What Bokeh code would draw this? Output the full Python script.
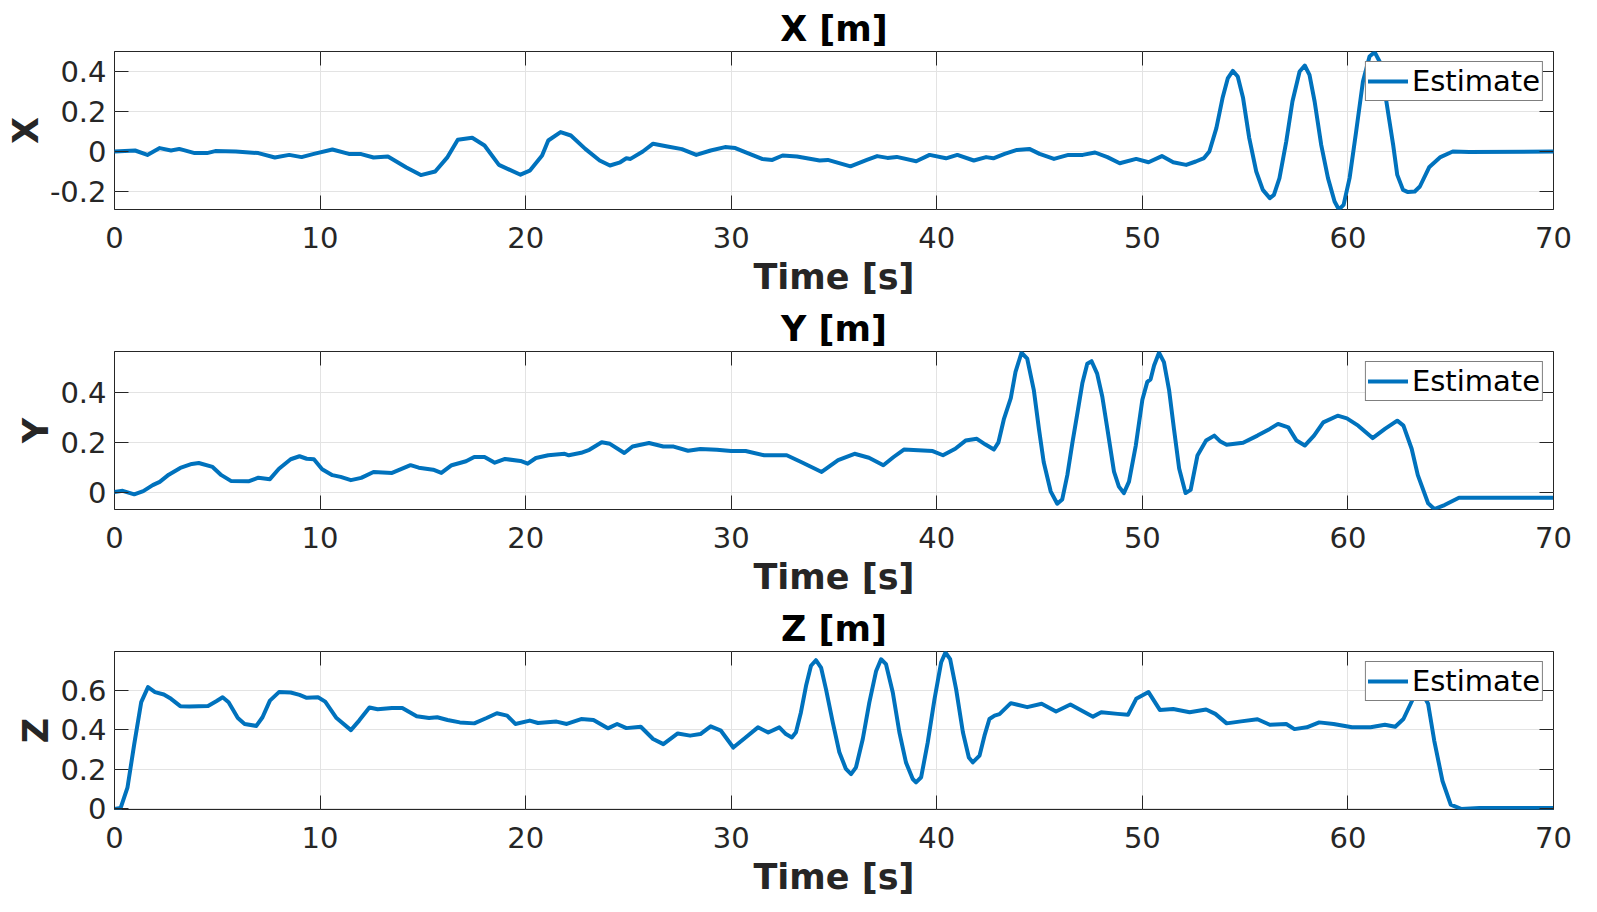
from bokeh.plotting import figure
from bokeh.layouts import column
from bokeh.models import Range1d, FixedTicker, LinearAxis
from bokeh.embed import file_html
from bokeh.resources import INLINE

# ---------------- data ----------------
titles = ["X [m]", "Y [m]", "Z [m]"]
y_labels = ["X", "Y", "Z"]
x_label = "Time [s]"
legend_label = "Estimate"

x_ticks = [0, 10, 20, 30, 40, 50, 60, 70]
x_tick_labels = ["0", "10", "20", "30", "40", "50", "60", "70"]

x_yticks = [-0.2, 0.0, 0.2, 0.4]
x_ytick_labels = ["-0.2", "0", "0.2", "0.4"]
y_yticks = [0.0, 0.2, 0.4]
y_ytick_labels = ["0", "0.2", "0.4"]
z_yticks = [0.0, 0.2, 0.4, 0.6]
z_ytick_labels = ["0", "0.2", "0.4", "0.6"]

x_yrange = [-0.29, 0.5]
y_yrange = [-0.07, 0.565]
z_yrange = [-0.003, 0.795]
t_range = [0, 70]

t_x = [0, 1.0, 1.6, 2.2, 2.75, 3.15, 3.9, 4.5, 4.9, 5.9, 7.0, 7.8, 8.5, 9.1, 9.7,
       10.6, 11.4, 12.0, 12.6, 13.3, 14.2, 14.9, 15.6, 16.2, 16.7, 17.4, 18.0,
       18.7, 19.75, 20.2, 20.8, 21.1, 21.7, 22.2, 22.9, 23.6, 24.1, 24.6, 24.9,
       25.1, 25.7, 26.2, 26.9, 27.6, 28.3, 29.0, 29.7, 30.2, 30.8, 31.5, 32.0,
       32.5, 33.2, 34.3, 34.7, 35.8, 36.6, 37.1, 37.6, 38.05, 39.0, 39.65, 40.45,
       41.0, 41.8, 42.4, 42.75, 43.3, 43.9, 44.5, 45.0, 45.7, 46.4, 47.1, 47.7,
       48.3, 48.9, 49.7, 50.3, 50.95, 51.5, 52.13, 52.6, 53.0, 53.26, 53.6, 53.9,
       54.16, 54.4, 54.64, 54.9, 55.2, 55.54, 55.86, 56.2, 56.4, 56.67, 57.0, 57.3,
       57.65, 57.9, 58.13, 58.38, 58.7, 59.03, 59.35, 59.56, 59.79, 60.08, 60.4,
       60.73, 61.05, 61.3, 61.54, 61.87, 62.2, 62.4, 62.68, 62.92, 63.25, 63.5,
       63.95, 64.5, 65.1, 65.9, 70.0]
x_est = [0, 0.005, -0.017, 0.017, 0.005, 0.013, -0.008, -0.008, 0.002, 0, -0.008,
         -0.03, -0.017, -0.028, -0.012, 0.01, -0.012, -0.013, -0.03, -0.025, -0.08,
         -0.118, -0.1, -0.028, 0.059, 0.069, 0.03, -0.067, -0.116, -0.096, -0.02,
         0.055, 0.097, 0.08, 0.013, -0.045, -0.07, -0.054, -0.034, -0.037, 0,
         0.039, 0.025, 0.012, -0.017, 0.005, 0.022, 0.017, -0.008, -0.037, -0.042,
         -0.02, -0.025, -0.045, -0.042, -0.074, -0.042, -0.023, -0.032, -0.027,
         -0.049, -0.017, -0.034, -0.017, -0.045, -0.028, -0.034, -0.012, 0.008,
         0.013, -0.012, -0.037, -0.017, -0.017, -0.005, -0.028, -0.059, -0.037,
         -0.054, -0.023, -0.054, -0.067, -0.05, -0.033, 0.0, 0.117, 0.267,
         0.367, 0.403, 0.375, 0.267, 0.067, -0.1, -0.192, -0.233, -0.217, -0.133,
         0.05, 0.25, 0.4, 0.43, 0.383, 0.25, 0.033, -0.133, -0.25, -0.29, -0.267,
         -0.133, 0.1, 0.35, 0.475, 0.497, 0.45, 0.25, 0.033, -0.117, -0.192,
         -0.203, -0.2, -0.175, -0.079, -0.028, 0, -0.003, 0]

t_y = [0, 0.4, 0.96, 1.4, 1.86, 2.2, 2.64, 3.2, 3.76, 4.1, 4.77, 5.2, 5.66, 6.55,
       7.0, 7.56, 8.0, 8.57, 9.0, 9.35, 9.7, 10.1, 10.6, 11.0, 11.5, 12.0, 12.6,
       13.5, 14.4, 14.8, 15.5, 15.9, 16.4, 17.1, 17.5, 18.0, 18.5, 19.0, 19.75,
       20.1, 20.5, 21.1, 21.9, 22.1, 22.7, 23.1, 23.7, 24.1, 24.8, 25.2, 26.0,
       26.7, 27.2, 27.9, 28.5, 29.3, 30.0, 30.7, 31.6, 32.7, 33.4, 34.4, 35.2,
       36.0, 36.7, 37.4, 37.9, 38.4, 39.8, 40.3, 40.9, 41.4, 41.95, 42.37, 42.78,
       43.0, 43.26, 43.6, 43.83, 44.12, 44.4, 44.72, 44.97, 45.2, 45.54, 45.86,
       46.1, 46.35, 46.6, 46.83, 47.08, 47.32, 47.53, 47.8, 48.05, 48.3, 48.62,
       48.86, 49.1, 49.35, 49.68, 50.0, 50.24, 50.4, 50.57, 50.81, 51.05, 51.3,
       51.54, 51.79, 52.1, 52.35, 52.68, 53.1, 53.5, 53.8, 54.1,
       54.9, 55.6, 56.2, 56.6, 57.1, 57.5, 57.9, 58.35, 58.8, 59.5, 59.95, 60.5,
       61.2, 61.8, 62.4, 62.7, 63.1, 63.4, 63.9, 64.2, 64.7, 65.4, 66.6, 70.0]
y_est = [0, 0.005, -0.009, 0.004, 0.028, 0.041, 0.07, 0.097, 0.113, 0.117, 0.101,
         0.068, 0.045, 0.044, 0.058, 0.052, 0.094, 0.132, 0.144, 0.134, 0.132,
         0.092, 0.068, 0.061, 0.048, 0.057, 0.081, 0.077, 0.108, 0.098, 0.09,
         0.077, 0.108, 0.124, 0.141, 0.141, 0.118, 0.133, 0.125, 0.114, 0.137,
         0.148, 0.154, 0.148, 0.158, 0.17, 0.2, 0.194, 0.157, 0.183, 0.197, 0.183,
         0.183, 0.166, 0.173, 0.17, 0.165, 0.165, 0.148, 0.148, 0.121, 0.081,
         0.128, 0.154, 0.138, 0.108, 0.141, 0.171, 0.165, 0.148, 0.174, 0.207,
         0.214, 0.191, 0.171, 0.2, 0.292, 0.378, 0.483, 0.56, 0.536, 0.41, 0.253,
         0.121, 0.003, -0.047, -0.03, 0.068, 0.2, 0.312, 0.437, 0.516, 0.526,
         0.476, 0.384, 0.253, 0.082, 0.022, -0.004, 0.042, 0.187, 0.371, 0.443,
         0.453, 0.509, 0.56, 0.522, 0.41, 0.253, 0.095, -0.004, 0.009, 0.147,
         0.207, 0.227, 0.203, 0.19, 0.198, 0.227, 0.254,
         0.274, 0.26, 0.207, 0.187, 0.227, 0.28, 0.307, 0.296, 0.267, 0.217,
         0.254, 0.287, 0.267, 0.174, 0.068, -0.045, -0.068, -0.052, -0.023,
         -0.023, -0.023]

t_z = [0, 0.3, 0.63, 0.96, 1.3, 1.63, 1.97, 2.4, 2.75, 3.2, 3.65, 4.55, 4.95, 5.26,
       5.55, 6.0, 6.33, 6.9, 7.2, 7.56, 8.0, 8.57, 9.0, 9.35, 9.9, 10.25, 10.8,
       11.5, 11.9, 12.4, 12.8, 13.5, 14.0, 14.7, 15.3, 15.7, 16.2, 16.8, 17.5,
       18.1, 18.6, 19.1, 19.5, 20.2, 20.6, 21.5, 22.0, 22.7, 23.3, 24.0, 24.45,
       24.9, 25.6, 26.2, 26.7, 27.4, 28.0, 28.5, 29.0, 29.5, 30.1, 30.7, 31.3,
       31.8, 32.34, 32.66, 32.95, 33.15, 33.39, 33.64, 33.88, 34.12, 34.37, 34.61,
       34.94, 35.26, 35.58, 35.83, 36.07, 36.4, 36.72, 37.05, 37.29, 37.53, 37.86,
       38.18, 38.5, 38.83, 38.99, 39.24, 39.56, 39.89, 40.21, 40.42, 40.65, 40.94,
       41.27, 41.56, 41.75, 42.08, 42.32, 42.56, 42.81, 43.05,
       43.6, 44.4, 45.1, 45.8, 46.5, 47.6, 48.0, 48.8, 49.3, 49.7, 50.3, 50.85,
       51.5, 52.3, 53.1, 53.55, 54.1, 54.8, 55.6, 56.2, 57.0, 57.4, 58.0, 58.6,
       59.3, 60.2, 61.1, 61.8, 62.3, 62.7, 63.2, 63.5, 63.9, 64.2, 64.6, 65.0,
       65.5, 66.4, 70.0]
z_est = [0, 0.005, 0.107, 0.327, 0.539, 0.615, 0.59, 0.578, 0.556, 0.519, 0.517,
         0.52, 0.544, 0.564, 0.539, 0.459, 0.429, 0.419, 0.463, 0.547, 0.59, 0.588,
         0.576, 0.561, 0.564, 0.542, 0.459, 0.398, 0.446, 0.512, 0.503, 0.51, 0.51,
         0.468, 0.459, 0.463, 0.449, 0.437, 0.432, 0.459, 0.483, 0.471, 0.429,
         0.446, 0.434, 0.441, 0.429, 0.454, 0.449, 0.407, 0.429, 0.408, 0.415,
         0.353, 0.327, 0.381, 0.37, 0.378, 0.417, 0.395, 0.31, 0.361, 0.412, 0.386,
         0.412, 0.378, 0.361, 0.387, 0.487, 0.622, 0.723, 0.751, 0.714, 0.605,
         0.437, 0.286, 0.202, 0.176, 0.21, 0.353, 0.538, 0.697, 0.756, 0.731,
         0.588, 0.387, 0.235, 0.151, 0.134, 0.16, 0.336, 0.555, 0.739, 0.79,
         0.756, 0.605, 0.387, 0.26, 0.235, 0.269, 0.37, 0.454, 0.471, 0.479,
         0.534, 0.514, 0.531, 0.492, 0.527, 0.466, 0.488, 0.48,
         0.475, 0.556, 0.59, 0.5, 0.505, 0.488, 0.502, 0.48, 0.432, 0.442, 0.453,
         0.425, 0.429, 0.403, 0.412, 0.437, 0.429, 0.412, 0.412, 0.425, 0.415,
         0.454, 0.564, 0.607, 0.531, 0.344, 0.141, 0.022, 0, 0.005, 0.005]

# ---------------- styling ----------------
FONT = "DejaVu Sans"
LINE_COLOR = "#0072BD"
AX_COLOR = "#262626"
GRID_COLOR = "#e3e3e3"


def style_axis(ax):
    ax.axis_line_color = None
    ax.major_tick_in = 14
    ax.major_tick_out = 0
    ax.major_tick_line_color = AX_COLOR
    ax.minor_tick_line_color = None
    ax.major_label_text_font = FONT
    ax.major_label_text_font_size = "29px"
    ax.major_label_text_color = AX_COLOR
    ax.axis_label_text_font = FONT
    ax.axis_label_text_font_size = "35px"
    ax.axis_label_text_font_style = "bold"
    ax.axis_label_text_color = AX_COLOR


def tick_only_axis(ticks):
    ax = LinearAxis(ticker=FixedTicker(ticks=ticks),
                    major_label_overrides={k: "" for k in ticks})
    ax.axis_line_color = None
    ax.major_tick_in = 14
    ax.major_tick_out = 0
    ax.major_tick_line_color = AX_COLOR
    ax.minor_tick_line_color = None
    ax.major_label_text_font_size = "1px"
    ax.major_label_standoff = 0
    return ax


def make_panel(title, ylab, t, v, yr, yticks, ylabels):
    p = figure(width=1581, height=300,
               x_range=Range1d(*t_range), y_range=Range1d(*yr),
               output_backend="svg", toolbar_location=None,
               min_border_left=114, min_border_right=28,
               min_border_top=51, min_border_bottom=91)
    p.background_fill_color = "white"
    p.border_fill_color = "white"
    p.outline_line_color = AX_COLOR
    p.outline_line_width = 1

    p.title.text = title
    p.title.align = "center"
    p.title.text_font = FONT
    p.title.text_font_size = "35px"
    p.title.text_font_style = "bold"
    p.title.text_color = "#000000"
    p.title.standoff = 6

    xt = FixedTicker(ticks=x_ticks)
    yt = FixedTicker(ticks=yticks)

    xa = p.xaxis[0]
    xa.ticker = xt
    xa.major_label_overrides = {k: s for k, s in zip(x_ticks, x_tick_labels)}
    ya = p.yaxis[0]
    ya.ticker = yt
    ya.major_label_overrides = {k: s for k, s in zip(yticks, ylabels)}
    style_axis(xa)
    style_axis(ya)
    xa.axis_label = x_label
    xa.major_label_standoff = 17
    xa.axis_label_standoff = 6
    ya.axis_label = ylab
    ya.major_label_standoff = 8
    ya.axis_label_standoff = 1

    p.add_layout(tick_only_axis(x_ticks), "above")
    p.add_layout(tick_only_axis(yticks), "right")

    p.xgrid.ticker = xt
    p.ygrid.ticker = yt
    p.xgrid.grid_line_color = GRID_COLOR
    p.ygrid.grid_line_color = GRID_COLOR

    p.line(t, v, line_color=LINE_COLOR, line_width=4, line_join="round",
           line_cap="round", legend_label=legend_label)

    lg = p.legend[0]
    lg.location = "top_right"
    lg.margin = 10
    lg.padding = 2
    lg.spacing = 0
    lg.glyph_width = 40
    lg.glyph_height = 26
    lg.label_standoff = 4
    lg.label_height = 26
    lg.label_text_font = FONT
    lg.label_text_font_size = "29px"
    lg.label_text_color = "#000000"
    lg.border_line_color = "#000000"
    lg.border_line_width = 1
    lg.background_fill_color = "white"
    lg.background_fill_alpha = 1.0
    return p


p1 = make_panel(titles[0], y_labels[0], t_x, x_est, x_yrange, x_yticks, x_ytick_labels)
p2 = make_panel(titles[1], y_labels[1], t_y, y_est, y_yrange, y_yticks, y_ytick_labels)
p3 = make_panel(titles[2], y_labels[2], t_z, z_est, z_yrange, z_yticks, z_ytick_labels)

layout = column(p1, p2, p3, spacing=0)
open("out.html", "w").write(file_html(layout, INLINE))
